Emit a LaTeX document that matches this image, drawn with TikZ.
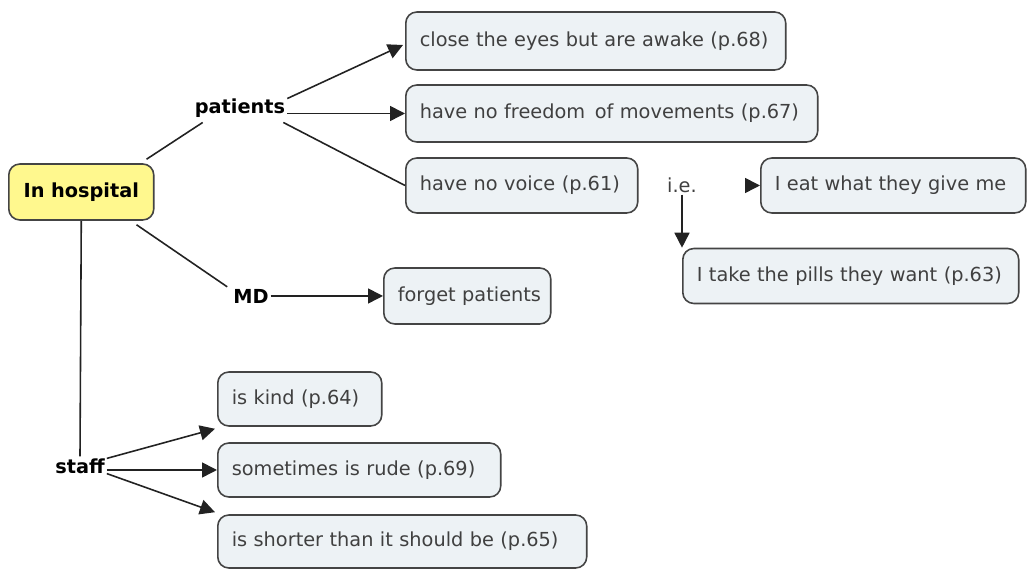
\documentclass[tikz,border=0pt]{standalone}
\usepackage{fontspec}
\setmainfont{DejaVu Sans}
\usetikzlibrary{arrows.meta,calc}
\definecolor{boxfill}{HTML}{EDF2F5}
\definecolor{boxline}{HTML}{444444}
\definecolor{hospfill}{HTML}{FFF88E}
\definecolor{txt}{HTML}{404040}
\definecolor{lin}{HTML}{222222}
\tikzset{
  concept/.style={draw=boxline, line width=0.9pt, fill=boxfill, rounded corners=0.22cm,
    text=txt, font=\fontsize{11}{13}\selectfont, inner xsep=0.28cm, inner ysep=0pt,
    align=left, anchor=west},
  rootc/.style={concept, fill=hospfill, text=black, font=\fontsize{11}{13}\selectfont\bfseries, align=center},
  linklabel/.style={font=\fontsize{11}{13}\selectfont\bfseries, text=black, inner sep=1pt},
  ielabel/.style={font=\fontsize{11}{13}\selectfont, text=txt, inner sep=1pt},
  conn/.style={draw=lin, line width=0.9pt},
  arr/.style={conn, -{Triangle[length=0.3cm,width=0.3cm]}}
}
\begin{document}
\begin{tikzpicture}[x=0.02cm,y=-0.02cm]
\useasboundingbox (0,0) rectangle (1029,570);
% concepts (anchor west at box left edge)
\node[rootc, text width=2.34cm, minimum height=1.12cm] (hosp) at (8,192) {In hospital};
\node[concept, text width=7.04cm, minimum height=1.16cm] (c1) at (405,41) {\mbox{close the eyes but are awake (p.68)}};
\node[concept, text width=7.68cm, minimum height=1.14cm] (c2) at (405,113.5) {\mbox{have no freedom\, of movements (p.67)}};
\node[concept, text width=4.08cm, minimum height=1.1cm] (c3) at (405,185.5) {\mbox{have no voice (p.61)}};
\node[concept, text width=4.74cm, minimum height=1.1cm] (c4) at (760,185.5) {\mbox{I eat what they give me}};
\node[concept, text width=6.16cm, minimum height=1.1cm] (c5) at (682,276) {\mbox{I take the pills they want (p.63)}};
\node[concept, text width=2.78cm, minimum height=1.12cm] (c6) at (383,296) {\mbox{forget patients}};
\node[concept, text width=2.72cm, minimum height=1.08cm] (k1) at (217,399) {\mbox{is kind (p.64)}};
\node[concept, text width=5.1cm, minimum height=1.08cm] (k2) at (217,470) {\mbox{sometimes is rude (p.69)}};
\node[concept, text width=6.82cm, minimum height=1.06cm] (k3) at (217,541.5) {\mbox{is shorter than it should be (p.65)}};
% linking phrases
\node[linklabel] (patients) at (240,108) {patients};
\node[linklabel] (md) at (251,296) {MD};
\node[linklabel] (staff) at (80,466) {staff};
\node[ielabel] (ie) at (682,185) {i.e.};
\coordinate (iestub) at (745,185.5);
% connectors
\draw[conn] ($(hosp.north east)+(-8,-4)$) -- ($(patients.south west)+(10,3)$);
\draw[arr] ($(patients.north east)+(0,2)$) -- ($(c1.west)+(-2,4)$);
\draw[arr] (patients.east |- c2.west) -- (c2.west);
\draw[conn] ($(patients.south east)+(-4,3)$) -- (c3.west);
\draw[conn] ($(hosp.south east)+(-18,4)$) -- ($(md.north west)+(-4,0)$);
\draw[arr] (md.east |- c6.west) -- (c6.west);
\draw[conn] (hosp.south) -- (staff.north);
\draw[arr] ($(staff.north east)+(0,2)$) -- ($(k1.south west)+(-2,2)$);
\draw[arr] (staff.east |- k2.west) -- (k2.west);
\draw[arr] ($(staff.south east)+(0,-2)$) -- ($(k3.north west)+(-2,-2)$);
\draw[arr] (ie.south) -- (ie.south |- c5.north);
\draw[arr] (iestub) -- (c4.west);
\end{tikzpicture}
\end{document}
